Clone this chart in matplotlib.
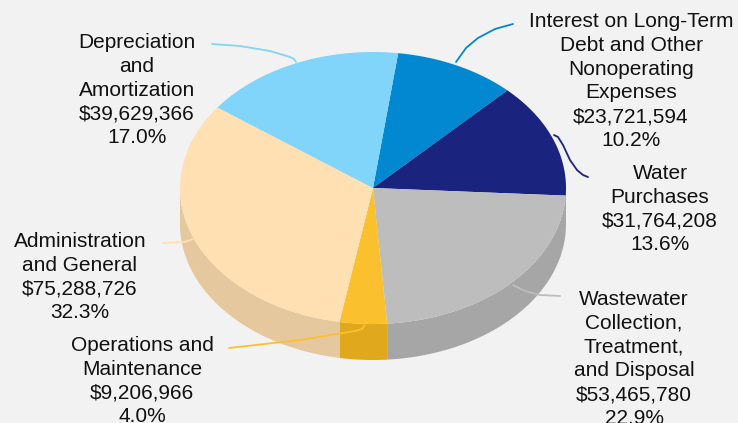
import numpy as np
import matplotlib.pyplot as plt
from matplotlib.patches import Polygon

plt.rcParams['font.family'] = ['Liberation Sans', 'DejaVu Sans']

# slice data, clockwise from the top
names = ['Interest on Long-Term\nDebt and Other\nNonoperating\nExpenses',
         'Water\nPurchases',
         'Wastewater\nCollection,\nTreatment,\nand Disposal',
         'Operations and\nMaintenance',
         'Administration\nand General',
         'Depreciation\nand\nAmortization']
values = [23721594, 31764208, 53465780, 9206966, 75288726, 39629366]

top_colors = ['#0288D1', '#1A237E', '#BDBDBD', '#FBC02D', '#FFE0B2', '#81D4FA']
side_colors = ['#0270AC', '#141C66', '#A6A6A6', '#E0A81C', '#E6C89E', '#6AB8DA']

# label centres and leader lines (pixel coords)
label_pos = [(631, 81), (660, 209), (634, 359), (142, 381), (80, 277), (137, 90)]
leaders = [
    [(513, 24), (495, 29), (478, 38), (466, 48), (456, 62)],
    [(554, 135), (558, 137), (563, 145), (570, 160), (577, 170), (583, 175), (588, 177)],
    [(513, 285), (525, 291), (540, 295), (560, 296)],
    [(229, 348), (300, 340), (355, 331), (362, 329), (365, 325)],
    [(163, 243), (185, 242), (193, 239)],
    [(212, 44), (240, 46), (270, 51), (290, 57), (294, 59), (296, 62)],
]

cx, cy, rx, ry, depth = 373, 188, 193, 136, 36
start = 82.5

fig = plt.figure(figsize=(7.38, 4.23), dpi=100)
fig.patch.set_facecolor('#F2F2F2')
ax = fig.add_axes([0, 0, 1, 1])
ax.set_xlim(0, 738)
ax.set_ylim(423, 0)
ax.axis('off')


def arc(a1, a2, dy=0, n=100):
    t = np.radians(np.linspace(a1, a2, n))
    return np.column_stack([cx + rx * np.cos(t), cy - ry * np.sin(t) + dy])


total = sum(values)
angles = start - 360 * np.concatenate([[0], np.cumsum(values)]) / total

# sides (front half only)
for i in range(len(values)):
    hi, lo = angles[i], angles[i + 1]
    for k in (-1, 0, 1):
        a, b = max(lo, -180 + 360 * k), min(hi, 360 * k)
        if b > a:
            pts = np.vstack([arc(b, a), arc(a, b, depth)])
            ax.add_patch(Polygon(pts, closed=True, fc=side_colors[i], ec='none', zorder=1))

# tops
for i in range(len(values)):
    pts = np.vstack([[(cx, cy)], arc(angles[i], angles[i + 1])])
    ax.add_patch(Polygon(pts, closed=True, fc=top_colors[i], ec='none', zorder=2))

for i in range(len(values)):
    pct = 100 * values[i] / total
    txt = names[i] + '\n\\$' + format(values[i], ',') + '\n' + f'{pct:.1f}%'
    ax.text(label_pos[i][0], label_pos[i][1], txt, ha='center', va='center',
            multialignment='center', fontsize=15, linespacing=1.33, color='#111111', zorder=4)
    xs, ys = zip(*leaders[i])
    ax.plot(xs, ys, color=top_colors[i], lw=1.3, zorder=3,
            solid_capstyle='round', solid_joinstyle='round')

fig.savefig('out.png', dpi=100, facecolor=fig.get_facecolor())
